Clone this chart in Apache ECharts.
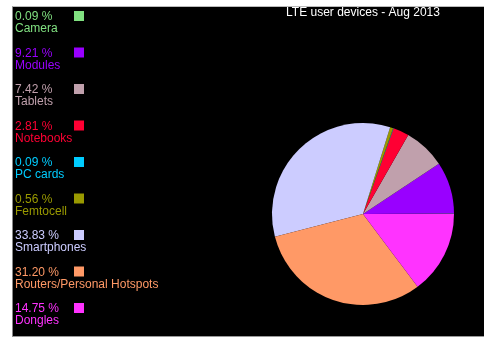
<!DOCTYPE html>
<html>
<head>
<meta charset="utf-8">
<script src="https://cdn.jsdelivr.net/npm/echarts@6/dist/echarts.min.js"></script>
<style>
html,body{margin:0;padding:0;background:#fff;width:484px;height:339px;overflow:hidden;}
#bg{position:absolute;left:12px;top:6px;width:472px;height:329px;background:#000;border-top:1px solid #bbb;border-left:1px solid #888;border-bottom:1px solid #999;}
#chart{position:absolute;left:0;top:0;width:484px;height:339px;}
</style>
</head>
<body>
<div id="bg"></div>
<div id="chart"></div>
<script>
const titleText = 'LTE user devices - Aug 2013';
const categories = ['Camera','Modules','Tablets','Notebooks','PC cards','Femtocell','Smartphones','Routers/Personal Hotspots','Dongles'];
const values = [0.09, 9.21, 7.42, 2.81, 0.09, 0.56, 33.83, 31.20, 14.75];
const valueLabels = ['0.09 %','9.21 %','7.42 %','2.81 %','0.09 %','0.56 %','33.83 %','31.20 %','14.75 %'];
const colors = ['#80e080','#9900ff','#c0a0ac','#ff0033','#00ccff','#999900','#ccccff','#ff9966','#ff33ff'];

const chart = echarts.init(document.getElementById('chart'), null, {renderer:'canvas'});
const font = '"Liberation Sans", Arial, sans-serif';
const step = 36.5;
const graphics = [];
categories.forEach((name, i) => {
  const y0 = 16 + step * i;
  graphics.push({type:'text', left: 15, top: y0 - 5, silent:true,
    style:{text: valueLabels[i], fill: colors[i], font: '12px ' + font}});
  graphics.push({type:'text', left: 15, top: y0 + 7, silent:true,
    style:{text: name, fill: colors[i], font: '12px ' + font}});
  graphics.push({type:'rect', left: 74, top: y0 - 5, silent:true,
    shape:{width:10, height:10}, style:{fill: colors[i]}});
});

chart.setOption({
  backgroundColor: 'transparent',
  animation: false,
  title: {text: titleText, left: 363, top: 7, textAlign: 'center', padding: 0,
    textStyle: {color:'#fff', fontSize:12, fontWeight:'normal', fontFamily: font}},
  graphic: graphics,
  series: [{
    type: 'pie',
    center: [363, 214],
    radius: 91,
    startAngle: 0,
    clockwise: false,
    minAngle: 0,
    avoidLabelOverlap: false,
    label: {show:false},
    labelLine: {show:false},
    emphasis: {disabled:true},
    silent: true,
    itemStyle: {borderWidth:0},
    data: categories.map((n, i) => ({name:n, value: values[i], itemStyle:{color: colors[i]}}))
  }]
});
</script>
</body>
</html>
